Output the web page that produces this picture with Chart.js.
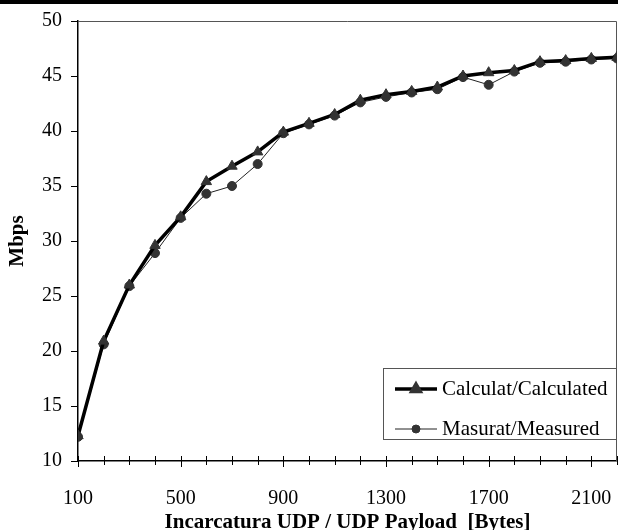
<!DOCTYPE html>
<html>
<head>
<meta charset="utf-8">
<script src="https://cdn.jsdelivr.net/npm/chart.js@4/dist/chart.umd.min.js"></script>
<style>
  html, body { margin: 0; padding: 0; background: #fff; overflow: hidden; }
  #wrap { position: absolute; left: 0; top: 0; width: 618px; height: 530px; }
  #topbar { position: absolute; left: 0; top: 0; width: 618px; height: 4px; background: #000; }
</style>
</head>
<body>
<div id="wrap"><canvas id="chart"></canvas></div>
<div id="topbar"></div>
<script>
var payloadBytes = [100, 200, 300, 400, 500, 600, 700, 800, 900, 1000, 1100,
                    1200, 1300, 1400, 1500, 1600, 1700, 1800, 1900, 2000, 2100, 2200];
var calculatedMbps = [12.3, 20.9, 26.0, 29.6, 32.2, 35.4, 36.8, 38.1, 39.9, 40.7, 41.5,
                      42.8, 43.3, 43.6, 44.0, 45.0, 45.3, 45.5, 46.3, 46.4, 46.6, 46.7];
var measuredMbps = [12.2, 20.6, 25.9, 28.9, 32.1, 34.3, 35.0, 37.0, 39.8, 40.6, 41.4,
                    42.6, 43.1, 43.5, 43.8, 44.9, 44.2, 45.4, 46.2, 46.3, 46.5, 46.6];
var seriesNames = ["Calculat/Calculated", "Masurat/Measured"];
var xTickLabels = [100, 500, 900, 1300, 1700, 2100]; // labelled (major) ticks
var xTitle = "Incarcatura UDP / UDP Payload  [Bytes]";
var yTitle = "Mbps";

var serif = "'Liberation Serif', 'Times New Roman', serif";
var markColor = "#333";

function toPoints(ys) {
    return payloadBytes.map(function (x, i) { return { x: x, y: ys[i] }; });
}

// tick marks of the x axis cross the axis line, major ones a bit longer below
var xTicksPlugin = {
    id: "xTicks",
    afterDraw: function (chart) {
        var ctx = chart.ctx, xs = chart.scales.x, base = chart.chartArea.bottom;
        ctx.save();
        ctx.strokeStyle = "#000";
        ctx.lineWidth = 1;
        xs.ticks.forEach(function (t) {
            var px = Math.round(xs.getPixelForValue(t.value)) + 0.5;
            var major = xTickLabels.indexOf(t.value) >= 0;
            ctx.beginPath();
            ctx.moveTo(px, base - 5);
            ctx.lineTo(px, base + (major ? 6 : 4));
            ctx.stroke();
        });
        ctx.restore();
    }
};

// thin frame on the top and right of the plot area
var framePlugin = {
    id: "frame",
    beforeDatasetsDraw: function (chart) {
        var ctx = chart.ctx, a = chart.chartArea;
        ctx.save();
        ctx.strokeStyle = "#555";
        ctx.lineWidth = 1;
        ctx.beginPath();
        ctx.moveTo(a.left, Math.round(a.top) + 0.5);
        ctx.lineTo(Math.round(a.right) - 0.5, Math.round(a.top) + 0.5);
        ctx.lineTo(Math.round(a.right) - 0.5, a.bottom);
        ctx.stroke();
        ctx.restore();
    }
};

// boxed legend inside the plot, line sample + marker like the original
var boxLegendPlugin = {
    id: "boxLegend",
    afterDraw: function (chart) {
        var ctx = chart.ctx, a = chart.chartArea;
        var w = 234, h = 72;
        var right = Math.round(a.right), bottom = Math.round(a.bottom) - 21;
        var left = right - w, top = bottom - h;
        ctx.save();
        ctx.fillStyle = "#fff";
        ctx.fillRect(left, top, w, h);
        ctx.strokeStyle = "#555";
        ctx.lineWidth = 1;
        ctx.strokeRect(left + 0.5, top + 0.5, w - 1, h - 1);
        var rowY = [top + 21, top + 61];
        chart.data.datasets.forEach(function (ds, i) {
            var y = rowY[i];
            ctx.strokeStyle = ds.borderColor;
            ctx.lineWidth = ds.borderWidth;
            ctx.beginPath();
            ctx.moveTo(left + 12, y);
            ctx.lineTo(left + 54, y);
            ctx.stroke();
            ctx.fillStyle = ds.pointBackgroundColor;
            ctx.strokeStyle = ds.pointBorderColor;
            Chart.helpers.drawPoint(ctx, {
                pointStyle: ds.pointStyle,
                radius: ds.pointStyle === "triangle" ? 5 : 4,
                rotation: 0,
                borderWidth: 1
            }, left + 33, y);
            ctx.fillStyle = "#000";
            ctx.font = "21px " + serif;
            ctx.textBaseline = "middle";
            ctx.textAlign = "left";
            ctx.fillText(ds.label, left + 59, y);
        });
        ctx.restore();
    }
};

var config = {
    type: "line",
    data: {
        datasets: [{
            label: seriesNames[0],
            data: toPoints(calculatedMbps),
            borderColor: "#000",
            borderWidth: 3.5,
            pointStyle: "triangle",
            pointRadius: 6,
            pointBorderWidth: 1,
            pointBackgroundColor: markColor,
            pointBorderColor: markColor,
            tension: 0
        }, {
            label: seriesNames[1],
            data: toPoints(measuredMbps),
            borderColor: "#222",
            borderWidth: 1,
            pointStyle: "circle",
            pointRadius: 4.5,
            pointBorderWidth: 1,
            pointBackgroundColor: markColor,
            pointBorderColor: markColor,
            tension: 0
        }]
    },
    options: {
        responsive: true,
        maintainAspectRatio: false,
        animation: false,
        events: [],
        layout: { autoPadding: false, padding: { top: 19, right: 1, bottom: 0, left: 0 } },
        plugins: {
            legend: { display: false },
            tooltip: { enabled: false }
        },
        scales: {
            x: {
                type: "linear",
                min: 100,
                max: 2200,
                afterFit: function (scale) {
                    scale.height = 69;
                    scale.paddingRight = 0;
                    scale.paddingLeft = 0;
                },
                border: { display: true, color: "#000", width: 1.5 },
                grid: { display: false, drawTicks: false },
                ticks: {
                    stepSize: 100,
                    autoSkip: false,
                    maxRotation: 0,
                    padding: 26,
                    color: "#000",
                    font: { family: serif, size: 20 },
                    callback: function (v) { return xTickLabels.indexOf(v) >= 0 ? String(v) : ""; }
                },
                title: {
                    display: true,
                    text: xTitle,
                    color: "#000",
                    font: { family: serif, size: 21, weight: "bold" },
                    padding: { top: 0, bottom: -5 }
                }
            },
            y: {
                min: 10,
                max: 50,
                afterFit: function (scale) { scale.width = 78; },
                border: { display: true, color: "#000", width: 1.5 },
                grid: { display: true, drawOnChartArea: false, drawTicks: true, tickLength: 7, color: "#000", lineWidth: 1 },
                ticks: {
                    stepSize: 5,
                    padding: 9,
                    color: "#000",
                    font: { family: serif, size: 20 }
                },
                title: {
                    display: true,
                    text: yTitle,
                    color: "#000",
                    font: { family: serif, size: 21, weight: "bold" },
                    padding: { top: 5, bottom: 0 }
                }
            }
        }
    },
    plugins: [framePlugin, xTicksPlugin, boxLegendPlugin]
};

var chart = new Chart(document.getElementById("chart"), config);
</script>
</body>
</html>
